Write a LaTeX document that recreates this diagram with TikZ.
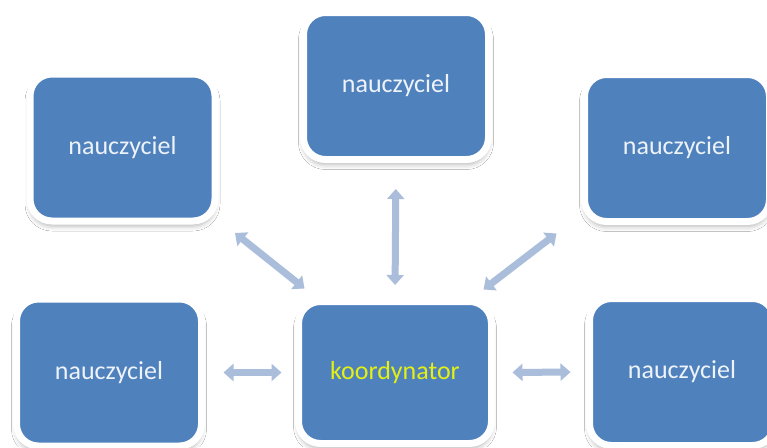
\documentclass[tikz,border=0pt]{standalone}
\usepackage{fontspec}
\setmainfont{Carlito}
\usetikzlibrary{arrows.meta,shadows.blur}
\definecolor{boxblue}{RGB}{79,129,189}
\definecolor{linkblue}{RGB}{170,189,219}
\definecolor{txtwhite}{RGB}{238,243,250}
\definecolor{txtyellow}{RGB}{228,240,20}
\begin{document}
\begin{tikzpicture}[x=1pt,y=-1pt,
    teacher/.style={draw=white,line width=7pt,fill=boxblue,rounded corners=22pt,
        minimum width=185pt,minimum height=147pt,inner sep=0pt,
        text=txtwhite,font=\fontsize{26}{30}\selectfont,
        blur shadow={shadow xshift=0pt,shadow yshift=-5pt,shadow blur radius=5pt,shadow opacity=30}},
    boss/.style={teacher,minimum width=193pt,minimum height=142pt,text=txtyellow},
    link/.style={draw=linkblue,line width=7pt,{Triangle[length=10pt,width=17pt]}-{Triangle[length=10pt,width=17pt]}}]
    \useasboundingbox[fill=white] (0,0) rectangle (767,447);
    \node[teacher] (t) at (396,86) {nauczyciel};
    \node[teacher] (tl) at (122.5,147.5) {nauczyciel};
    \node[teacher] (tr) at (677,148) {nauczyciel};
    \node[teacher] (bl) at (109,372.5) {nauczyciel};
    \node[teacher] (br) at (682,372) {nauczyciel};
    \node[boss] (k) at (395,372.5) {koordynator};
    \draw[link,shorten <=26pt,shorten >=13pt] (t.south) -- (k.north);
    \draw[link] ([xshift=16.5pt,yshift=-8.5pt]tl.south east) -- ([xshift=9.5pt,yshift=9.5pt]k.north west);
    \draw[link] ([xshift=-24.5pt,yshift=-8.5pt]tr.south west) -- ([xshift=-11.5pt,yshift=8.5pt]k.north east);
    \draw[link,shorten <=18.5pt,shorten >=13.5pt] (bl.east) -- (k.west);
    \draw[link,shorten <=17.5pt,shorten >=15.5pt] (k.east) -- (br.west);
\end{tikzpicture}
\end{document}
